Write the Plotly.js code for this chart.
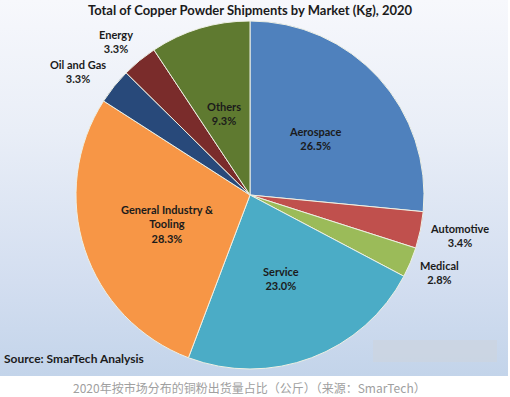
<!DOCTYPE html>
<html>
<head>
<meta charset="utf-8">
<script src="https://cdn.plot.ly/plotly-3.0.1.min.js"></script>
<style>
  html, body { margin: 0; padding: 0; background: #ffffff; }
  #wrap { position: relative; width: 510px; height: 397px; overflow: hidden; }
  #bg { position: absolute; left: 0; top: 0; width: 508px; height: 376px;
        background: linear-gradient(to bottom, #f7f8fc 0%, #e9eef7 35%, #d3def0 75%, #c3d4ea 100%); }
  #chart { position: absolute; left: 0; top: 0; width: 510px; height: 397px; }
</style>
</head>
<body>
<div id="wrap"><div id="bg"></div><div id="chart"></div></div>
<script>
// ---- data ----
const categories = ["Aerospace", "Automotive", "Medical", "Service",
                    "General Industry &<br>Tooling", "Oil and Gas", "Energy", "Others"];
const shares = [26.5, 3.4, 2.8, 23.0, 28.3, 3.3, 3.3, 9.3];
const sliceColors = ["#4f81bd", "#c0504d", "#9bbb59", "#4bacc6",
                     "#f79646", "#28497a", "#7a2c2b", "#5f7a30"];
const titleText = "Total of Copper Powder Shipments by Market (Kg), 2020";
const sourceText = "Source: SmarTech Analysis";
const captionText = "2020年按市场分布的铜粉出货量占比（公斤）（来源：SmarTech）";

// label anchor positions (paper px)
const labelPos = [[315, 138], [459, 236], [439, 272], [281, 278],
                  [167, 224], [78, 71], [116, 42], [224, 113]];

const W = 510, H = 397;
const cx = 250, cy = 195, R = 174;

const annotations = categories.map((c, i) => ({
  xref: "paper", yref: "paper",
  x: labelPos[i][0] / W, y: 1 - labelPos[i][1] / H,
  xanchor: "center", yanchor: "middle",
  text: "<b>" + c + "<br>" + shares[i].toFixed(1) + "%</b>",
  showarrow: false,
  font: { family: "Lato, 'Open Sans', sans-serif", size: 11, color: "#1b1b1b" }
}));

annotations.push({
  xref: "paper", yref: "paper", x: 2 / W, y: 1 - 358 / H,
  xanchor: "left", yanchor: "middle", showarrow: false,
  text: "<b>" + sourceText + "</b>",
  font: { family: "Lato, 'Open Sans', sans-serif", size: 12, color: "#1b1b1b" }
});
annotations.push({
  xref: "paper", yref: "paper", x: 249 / W, y: 1 - 387 / H,
  xanchor: "center", yanchor: "middle", showarrow: false,
  text: captionText,
  font: { family: "'Noto Sans CJK SC', sans-serif", size: 12, color: "#a0a0a0" }
});

const data = [{
  type: "pie",
  values: shares,
  labels: categories,
  sort: false,
  direction: "clockwise",
  rotation: 0,
  marker: { colors: sliceColors, line: { color: "#eef0e4", width: 1 } },
  textinfo: "none",
  hoverinfo: "none",
  showlegend: false,
  domain: { x: [(cx - R) / W, (cx + R) / W], y: [(H - cy - R) / H, (H - cy + R) / H] }
}];

const layout = {
  width: W, height: H,
  margin: { l: 0, r: 0, t: 0, b: 0 },
  paper_bgcolor: "rgba(0,0,0,0)",
  plot_bgcolor: "rgba(0,0,0,0)",
  title: {
    text: "<b>" + titleText + "</b>",
    x: 250 / W, xanchor: "center", y: 1 - 10 / H, yanchor: "middle",
    font: { family: "Lato, 'Open Sans', sans-serif", size: 13, color: "#1b1b1b" }
  },
  shapes: [
    { type: "rect", xref: "paper", yref: "paper", x0: 373 / W, x1: 497 / W,
      y0: 1 - 362 / H, y1: 1 - 340 / H, line: { width: 0 }, fillcolor: "rgba(205,212,222,0.6)" }
  ],
  annotations: annotations
};

Plotly.newPlot("chart", data, layout, { displayModeBar: false, staticPlot: true });
</script>
</body>
</html>
